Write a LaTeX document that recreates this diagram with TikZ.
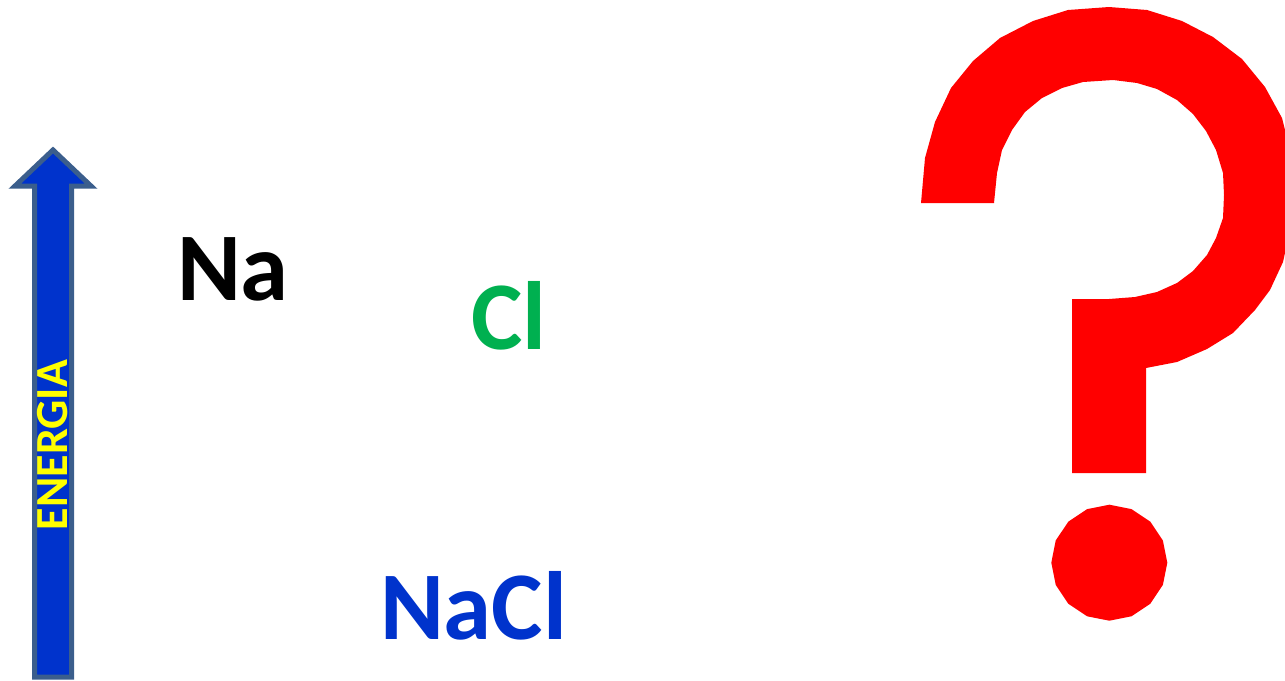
\documentclass[tikz,border=0pt]{standalone}
\usepackage{fontspec}
\setmainfont{Carlito}
\definecolor{arrowfill}{HTML}{0033CC}
\definecolor{arrowline}{HTML}{3B5E8C}
\definecolor{energy}{HTML}{FFFF00}
\definecolor{chlorine}{HTML}{00B050}
\definecolor{salt}{HTML}{0033CC}
\definecolor{quest}{HTML}{FF0000}
\tikzset{
  label/.style={inner sep=0pt, outer sep=0pt, anchor=base west, font=\bfseries},
  energyarrow/.style={fill=arrowfill, draw=arrowline, line width=5pt, line join=miter},
  questmark/.style={fill=quest, draw=none}
}
\begin{document}
\begin{tikzpicture}[x=1pt, y=-1pt]
  \useasboundingbox (0,0) rectangle (1285,680);
  \clip (0,0) rectangle (1285,680);

  % energy axis
  \path[energyarrow] (34.5,677) -- (34.5,186) -- (15,186) -- (53,150)
      -- (91,186) -- (71.5,186) -- (71.5,677) -- cycle;
  \node[inner sep=0pt, anchor=base, rotate=90, text=energy,
        font=\fontsize{46}{46}\selectfont\bfseries] (axis) at (67,445) {ENERGIA};

  % species
  \node[label, font=\fontsize{97}{97}\selectfont\bfseries] (na) at (177,300) {Na};
  \node[label, text=chlorine, font=\fontsize{97}{97}\selectfont\bfseries] (cl) at (471,349) {Cl};
  \node[label, text=salt, font=\fontsize{97}{97}\selectfont\bfseries] (nacl) at (380,639) {NaCl};

  % question mark: hook and stem
  \path[questmark] (921,203) -- (925,158) -- (935,122) -- (951,88) -- (973,61)
    -- (1000,38) -- (1033,21) -- (1068,10) -- (1109,7) -- (1147,10) -- (1182,21)
    -- (1213,37) -- (1242,59) -- (1265,87) -- (1282,118) -- (1290,150)
    -- (1293,190) -- (1290,230) -- (1283,262) -- (1270,290) -- (1255,310)
    -- (1233,333) -- (1207,349) -- (1177,362) -- (1146,368) -- (1146,473)
    -- (1072,473) -- (1072,299) -- (1109,299) -- (1135,297) -- (1157,292)
    -- (1177,283) -- (1193,271) -- (1207,255) -- (1216,238) -- (1223,218)
    -- (1224,195) -- (1223,173) -- (1216,150) -- (1206,131) -- (1193,114)
    -- (1177,100) -- (1157,89) -- (1137,83) -- (1113,80) -- (1083,82)
    -- (1062,88) -- (1042,98) -- (1025,112) -- (1012,130) -- (1002,150)
    -- (997,173) -- (994,203) -- cycle;
  % question mark: dot as a sixteen-sided polygon
  \path[questmark] ({1109.3+58*cos(90)},{562.7-58*sin(90)})
    \foreach \k in {1,...,15} { -- ({1109.3+58*cos(90+22.5*\k)},{562.7-58*sin(90+22.5*\k)}) }
    -- cycle;
\end{tikzpicture}
\end{document}
